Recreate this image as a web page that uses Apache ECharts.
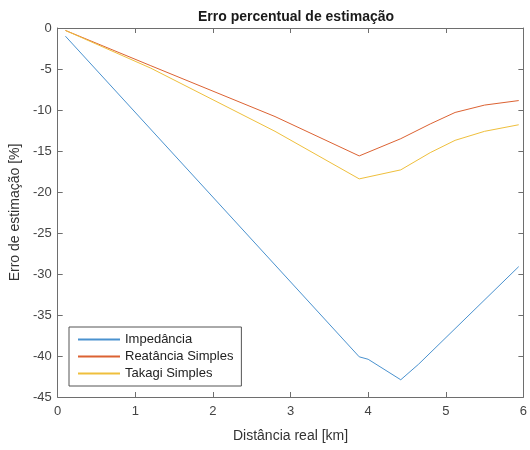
<!DOCTYPE html>
<html><head><meta charset="utf-8">
<script src="https://cdn.jsdelivr.net/npm/echarts@6/dist/echarts.min.js"></script>
<style>html,body{margin:0;padding:0;background:#fff}#c{width:530px;height:450px}</style>
</head><body><div id="c"></div>
<script>
const seriesNames = ['Impedância', 'Reatância Simples', 'Takagi Simples'];
const impX = [0.1, 3.885, 4.0, 4.42, 4.65, 5.94];
const impY = [-1.0, -40.1, -40.4, -42.9, -41.0, -29.1];
const reaX = [0.1, 1.2, 2.8, 3.885, 4.42, 4.8, 5.12, 5.5, 5.94];
const reaY = [-0.3, -4.6, -10.8, -15.6, -13.5, -11.7, -10.3, -9.4, -8.85];
const takX = [0.1, 1.2, 2.8, 3.885, 4.42, 4.8, 5.12, 5.5, 5.94];
const takY = [-0.3, -4.9, -12.6, -18.4, -17.3, -15.2, -13.7, -12.6, -11.8];
const xTicks = [0, 1, 2, 3, 4, 5, 6];
const yTicks = [-45, -40, -35, -30, -25, -20, -15, -10, -5, 0];

const zip = (xs, ys) => xs.map((x, i) => [x, ys[i]]);
const colors = ['#4a92cf', '#dc6232', '#efbf3c'];
const axisColor = '#6e6e6e';
const font = 'Liberation Sans, Arial, sans-serif';

const chart = echarts.init(document.getElementById('c'));
const baseX = {
  type: 'value', min: xTicks[0], max: xTicks[xTicks.length - 1], interval: 1,
  axisLine: { show: true, onZero: false, lineStyle: { color: axisColor, width: 1 } },
  axisTick: { show: true, inside: true, length: 5, lineStyle: { color: axisColor } },
  splitLine: { show: false }
};
const baseY = {
  type: 'value', min: yTicks[0], max: yTicks[yTicks.length - 1], interval: 5,
  axisLine: { show: true, onZero: false, lineStyle: { color: axisColor, width: 1 } },
  axisTick: { show: true, inside: true, length: 5, lineStyle: { color: axisColor } },
  splitLine: { show: false }
};
chart.setOption({
  animation: false,
  backgroundColor: '#fff',
  color: colors,
  title: {
    text: 'Erro percentual de estimação',
    left: 291, top: 5, textAlign: 'center',
    textStyle: { fontFamily: font, fontSize: 14, fontWeight: 'bold', color: '#1a1a1a' }
  },
  grid: { left: 57, right: 5, top: 28, bottom: 53, containLabel: false },
  legend: {
    orient: 'vertical', left: 69, top: 327,
    data: seriesNames,
    backgroundColor: '#fff', borderColor: '#555', borderWidth: 1,
    padding: [6, 8, 6, 8], itemGap: 4, itemWidth: 42, itemHeight: 14,
    itemStyle: { opacity: 0 },
    textStyle: { fontFamily: font, fontSize: 13, color: '#222' }
  },
  xAxis: [
    Object.assign({}, baseX, {
      position: 'bottom',
      name: 'Distância real [km]', nameLocation: 'middle', nameGap: 32,
      nameTextStyle: { fontFamily: font, fontSize: 14, color: '#333' },
      axisLabel: { fontFamily: font, fontSize: 13, color: '#444', margin: 8 }
    }),
    Object.assign({}, baseX, { position: 'top', axisLabel: { show: false } })
  ],
  yAxis: [
    Object.assign({}, baseY, {
      position: 'left',
      name: 'Erro de estimação [%]', nameLocation: 'middle', nameGap: 31,
      nameTextStyle: { fontFamily: font, fontSize: 14, color: '#333' },
      axisLabel: { fontFamily: font, fontSize: 13, color: '#444', margin: 6 }
    }),
    Object.assign({}, baseY, { position: 'right', axisLabel: { show: false } })
  ],
  series: [
    { name: seriesNames[0], type: 'line', data: zip(impX, impY), symbol: 'none', lineStyle: { width: 1 } },
    { name: seriesNames[1], type: 'line', data: zip(reaX, reaY), symbol: 'none', lineStyle: { width: 1 } },
    { name: seriesNames[2], type: 'line', data: zip(takX, takY), symbol: 'none', lineStyle: { width: 1 } }
  ]
});
</script></body></html>
